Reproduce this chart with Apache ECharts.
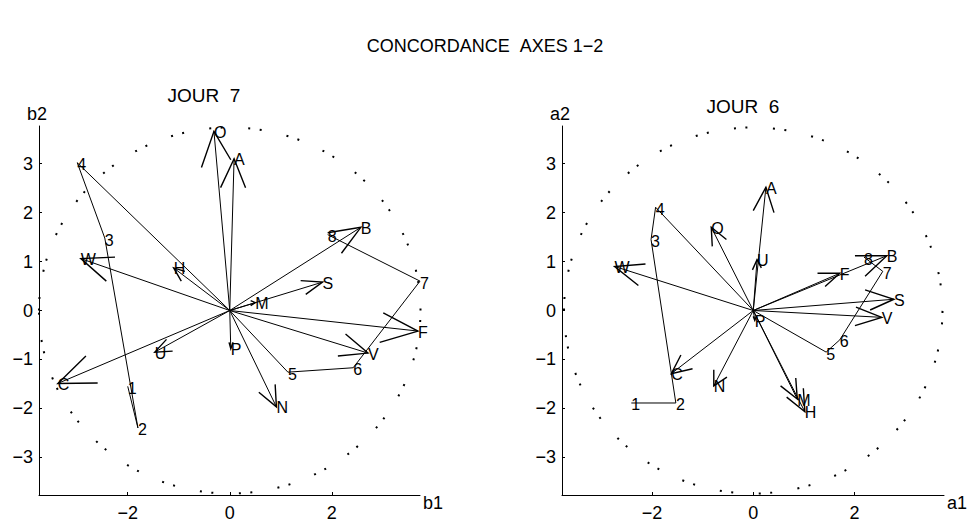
<!DOCTYPE html>
<html><head><meta charset="utf-8">
<script src="https://cdn.jsdelivr.net/npm/echarts@6/dist/echarts.min.js"></script>
<style>html,body{margin:0;padding:0;background:#fff}#c{width:971px;height:523px}</style>
</head><body><div id="c"></div>
<script>
const FONT = '"Liberation Sans", Arial, sans-serif';
const xTicks = [-2, 0, 2];
const yTicks = [-3, -2, -1, 0, 1, 2, 3];
const circleRadius = 3.74;

// JOUR 7 (left panel)
const j7Names = ['O','A','B','S','M','F','V','N','P','U','C','W','H'];
const j7X = [-0.31, 0.085, 2.57, 1.82, 0.50, 3.69, 2.71, 0.915, 0.02, -1.47, -3.37, -2.92, -1.10];
const j7Y = [3.66, 3.10, 1.70, 0.58, 0.16, -0.42, -0.87, -1.97, -0.78, -0.85, -1.49, 1.06, 0.87];
const j7Wing1 = [[-0.555,2.92],[-0.18,2.51],[1.92,1.59],[1.39,0.61],[0.41,0.20],[3.01,-0.05],[2.27,-0.48],[0.89,-1.51],[-0.014,-0.65],[-1.24,-0.59],[-2.82,-0.93],[-2.25,1.09],[-0.95,0.60]];
const j7Wing2 = [[0.02,3.08],[0.31,2.51],[2.19,1.17],[1.49,0.33],[0.41,0.10],[2.94,-0.65],[2.12,-0.93],[0.57,-1.67],[0.065,-0.65],[-1.12,-0.83],[-2.59,-1.48],[-2.42,0.60],[-0.88,0.80]];
const j7PathLabels = ['1','2','3','4','','5','6','7','8'];
const j7PathX = [-2.0, -1.80, -2.45, -2.99, 0, 1.14, 2.42, 3.73, 1.92];
const j7PathY = [-1.55, -2.40, 1.48, 3.02, 0, -1.26, -1.17, 0.60, 1.55];

// JOUR 6 (right panel)
const j6Names = ['A','O','U','F','B','S','V','P','M','H','N','C','W'];
const j6X = [0.25, -0.83, 0.075, 1.71, 2.64, 2.78, 2.54, 0.03, 0.87, 1.02, -0.78, -1.62, -2.74];
const j6Y = [2.52, 1.70, 1.04, 0.76, 1.12, 0.23, -0.14, -0.20, -1.81, -2.07, -1.54, -1.29, 0.90];
const j6Wing1 = [[0.0,2.04],[-0.81,1.31],[-0.016,0.83],[1.27,0.76],[2.01,1.12],[2.21,0.42],[2.03,0.07],[0.0,-0.12],[0.84,-1.38],[0.99,-1.59],[-0.78,-1.21],[-1.43,-0.91],[-2.13,0.95]];
const j6Wing2 = [[0.41,2.0],[-0.53,1.45],[0.16,0.87],[1.42,0.49],[2.21,0.70],[2.31,0.01],[2.01,-0.31],[0.06,-0.12],[0.54,-1.54],[0.66,-1.77],[-0.52,-1.36],[-1.20,-1.19],[-2.27,0.51]];
const j6PathLabels = ['1','2','3','4','','5','6','7','8'];
const j6PathX = [-2.41, -1.53, -2.02, -1.93, 0, 1.44, 1.71, 2.56, 2.19];
const j6PathY = [-1.89, -1.89, 1.45, 2.11, 0, -0.85, -0.60, 0.80, 1.09];

const fmt = v => v < 0 ? '\u2212' + Math.abs(v) : String(v);

function xAxisCfg(i, min, max, name) {
  return {
    gridIndex: i, type: 'value', min: min, max: max,
    axisLine: { show: true, onZero: false, lineStyle: { color: '#000', width: 1 } },
    axisTick: { show: true, inside: true, length: 3, customValues: xTicks, lineStyle: { color: '#000' } },
    axisLabel: { customValues: xTicks, formatter: fmt, color: '#000', fontSize: 18, fontFamily: FONT, margin: 9 },
    splitLine: { show: false },
    name: name, nameLocation: 'end', nameGap: 3,
    nameTextStyle: { color: '#000', fontSize: 18, fontFamily: FONT, verticalAlign: 'top', align: 'left', padding: [-1, 0, 0, 0] }
  };
}
function yAxisCfg(i, name) {
  return {
    gridIndex: i, type: 'value', min: -3.77, max: 3.77,
    axisLine: { show: true, onZero: false, lineStyle: { color: '#000', width: 1 } },
    axisTick: { show: true, inside: true, length: 3, customValues: yTicks, lineStyle: { color: '#000' } },
    axisLabel: { customValues: yTicks, formatter: fmt, color: '#000', fontSize: 18, fontFamily: FONT, margin: 6 },
    splitLine: { show: false },
    name: name, nameLocation: 'end', nameGap: 3,
    nameTextStyle: { color: '#000', fontSize: 18, fontFamily: FONT, align: 'center', padding: [0, 4, 0, 0] }
  };
}

function circleSeries(i) {
  return {
    type: 'custom', xAxisIndex: i, yAxisIndex: i, silent: true,
    data: [[0, 0, circleRadius]],
    renderItem(params, api) {
      const c = api.coord([api.value(0), api.value(1)]);
      const s = api.size([api.value(2), api.value(2)]);
      return { type: 'ellipse', shape: { cx: c[0], cy: c[1], rx: s[0], ry: s[1] },
        style: { fill: 'none', stroke: '#000', lineWidth: 2, lineDash: [2, 9.5, 2, 25.5] } };
    }
  };
}

function vectorSeries(i, names, X, Y, W1, W2) {
  return {
    type: 'custom', xAxisIndex: i, yAxisIndex: i, silent: true,
    data: names.map((n, k) => [X[k], Y[k], W1[k][0], W1[k][1], W2[k][0], W2[k][1]]),
    renderItem(params, api) {
      const o = api.coord([0, 0]);
      const t = api.coord([api.value(0), api.value(1)]);
      const a = api.coord([api.value(2), api.value(3)]);
      const b = api.coord([api.value(4), api.value(5)]);
      return { type: 'group', children: [
        { type: 'line', shape: { x1: o[0], y1: o[1], x2: t[0], y2: t[1] }, style: { stroke: '#000', lineWidth: 1 } },
        { type: 'polyline', shape: { points: [a, t, b] }, style: { stroke: '#000', lineWidth: 1.4, fill: 'none' } },
        { type: 'text', x: t[0], y: t[1] + 1, style: { text: names[params.dataIndex], fontSize: 16, fontFamily: FONT, fill: '#000', align: 'left', verticalAlign: 'middle' } }
      ] };
    }
  };
}

function pathSeries(i, labels, X, Y) {
  return {
    type: 'line', xAxisIndex: i, yAxisIndex: i, silent: true,
    data: X.map((x, k) => [x, Y[k]]),
    symbol: 'circle', symbolSize: 0.1, showSymbol: true,
    lineStyle: { color: '#000', width: 1 },
    itemStyle: { color: '#000' },
    label: { show: true, position: 'right', distance: 0, offset: [0, 2], color: '#000', fontSize: 16, fontFamily: FONT,
      formatter: p => labels[p.dataIndex] }
  };
}

const chart = echarts.init(document.getElementById('c'), null, { renderer: 'svg', width: 971, height: 523 });
chart.setOption({
  animation: false,
  backgroundColor: '#fff',
  title: [
    { text: 'CONCORDANCE \u00a0AXES 1\u22122', left: 485, top: 37, textAlign: 'center', padding: 0,
      textStyle: { fontSize: 18, fontWeight: 'normal', fontFamily: FONT, color: '#000' } },
    { text: 'JOUR \u00a07', left: 204, top: 86, textAlign: 'center', padding: 0,
      textStyle: { fontSize: 19, fontWeight: 'normal', fontFamily: FONT, color: '#000' } },
    { text: 'JOUR \u00a06', left: 743, top: 97, textAlign: 'center', padding: 0,
      textStyle: { fontSize: 19, fontWeight: 'normal', fontFamily: FONT, color: '#000' } }
  ],
  grid: [
    { left: 39, top: 126, width: 381, height: 369 },
    { left: 562, top: 126, width: 382, height: 369 }
  ],
  xAxis: [xAxisCfg(0, -3.74, 3.73, 'b1'), xAxisCfg(1, -3.78, 3.77, 'a1')],
  yAxis: [yAxisCfg(0, 'b2'), yAxisCfg(1, 'a2')],
  series: [
    circleSeries(0),
    pathSeries(0, j7PathLabels, j7PathX, j7PathY),
    vectorSeries(0, j7Names, j7X, j7Y, j7Wing1, j7Wing2),
    circleSeries(1),
    pathSeries(1, j6PathLabels, j6PathX, j6PathY),
    vectorSeries(1, j6Names, j6X, j6Y, j6Wing1, j6Wing2)
  ]
});
</script></body></html>
